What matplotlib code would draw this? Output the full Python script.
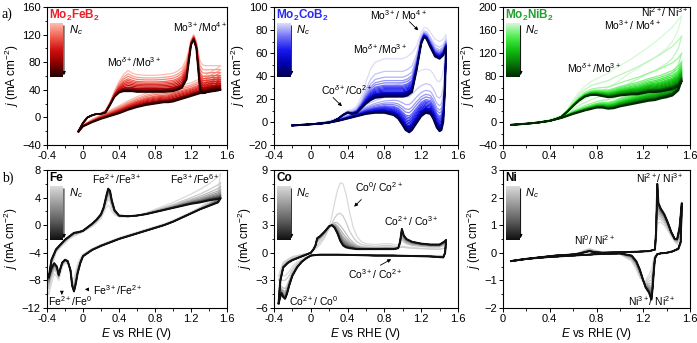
import numpy as np
import matplotlib
matplotlib.use('Agg')
import matplotlib.pyplot as plt
from matplotlib.colors import LinearSegmentedColormap
from matplotlib.ticker import MultipleLocator

plt.rcParams['font.family'] = 'Liberation Sans'
plt.rcParams['mathtext.fontset'] = 'custom'
plt.rcParams['mathtext.rm'] = 'Liberation Sans'
plt.rcParams['mathtext.it'] = 'Liberation Sans:italic'
plt.rcParams['mathtext.bf'] = 'Liberation Sans:bold'

# ---------------- data ----------------
# Mo2FeB2 : first (lightest) and last (darkest) cycle
mofe_E_up = [-0.05, 0.0, 0.05, 0.1, 0.15, 0.2, 0.25, 0.3, 0.35, 0.4, 0.45, 0.5, 0.55, 0.6, 0.7, 0.8, 0.9,
             1.0, 1.05, 1.1, 1.15, 1.18, 1.2, 1.23, 1.26, 1.28, 1.3, 1.33, 1.36, 1.4, 1.45, 1.5, 1.53]
mofe_up_first = [-22, -8, 0, 3, 5, 6, 10, 22, 38, 52, 62, 68, 64, 62, 61, 61, 62, 64, 67, 72,
                 85, 100, 112, 120, 110, 95, 82, 76, 75, 75, 75, 75, 75]
mofe_up_last = [-20, -8, 0, 3, 5, 5, 7, 18, 30, 36, 38, 38, 38, 37, 37, 37, 37, 38, 40, 43,
                55, 85, 105, 113, 100, 70, 40, 35, 36, 38, 39, 40, 40]
mofe_E_dn = [1.53, 1.5, 1.45, 1.4, 1.35, 1.3, 1.2, 1.1, 1.0, 0.95, 0.9, 0.8, 0.7, 0.6, 0.5, 0.4, 0.3,
             0.2, 0.1, 0.0, -0.05]
mofe_dn_first = [75, 72, 68, 64, 60, 56, 50, 47, 44, 40, 39, 38, 35, 30, 24, 17, 10, 4, -3, -11, -22]
mofe_dn_last = [40, 39, 38, 37, 36, 35, 31, 27, 23, 22, 22, 20, 18, 15, 11, 6, 2, -2, -7, -13, -20]
mofe_plateau = [62, 58, 55, 52, 50, 48, 46, 44, 42, 41, 40, 39, 38, 37]   # j at 0.6 V per cycle

# Mo2CoB2
moco_E_up = [-0.2, -0.1, 0.0, 0.1, 0.2, 0.25, 0.3, 0.35, 0.4, 0.45, 0.5, 0.55, 0.6, 0.65, 0.7, 0.8, 0.9,
             1.0, 1.05, 1.1, 1.15, 1.2, 1.23, 1.26, 1.3, 1.35, 1.4, 1.44, 1.47]
moco_up_first = [-3, -2.5, -2, -1.5, -0.5, 1, 3, 7, 10, 11, 14, 22, 35, 46, 52, 55, 55, 55, 57, 60,
                 66, 78, 82, 82, 78, 72, 70, 72, 76]
moco_up_last = [-3, -2.5, -2, -1.5, -0.5, 1, 3, 6, 8, 7, 8, 12, 16, 19, 21, 22, 22, 22, 23, 26,
                45, 68, 74, 72, 65, 57, 55, 58, 65]
moco_E_dn = [1.47, 1.46, 1.44, 1.42, 1.4, 1.37, 1.33, 1.3, 1.25, 1.2, 1.15, 1.1, 1.07, 1.03, 1.0,
             0.95, 0.9, 0.8, 0.7, 0.6, 0.5, 0.4, 0.3, 0.2, 0.0, -0.2]
moco_dn_first = [76, 60, 45, 38, 35, 36, 42, 45, 46, 45, 43, 40, 38, 36, 35, 33, 31, 28, 24, 19,
                 13, 8, 4, 1, -2, -3]
moco_dn_last = [65, 30, 0, -7, -8, -5, 3, 7, 8, 5, -1, -7, -9, -7, -3, 3, 6, 8, 8, 7, 5, 3, 1, -0.5, -2, -3]
moco_plateau = [55, 44, 39, 36, 34, 32, 31, 30, 29, 28, 27, 26, 25.5, 25, 24.5, 24, 23.5, 23, 22.5, 22]

# Mo2NiB2
moni_E_up = [0.07, 0.2, 0.3, 0.4, 0.45, 0.5, 0.55, 0.6, 0.65, 0.7, 0.75, 0.8, 0.85, 0.9, 0.95, 1.0,
             1.05, 1.1, 1.15, 1.2, 1.25, 1.3, 1.35, 1.4, 1.45, 1.5, 1.53]
moni_up_first = [-5, -3, -1, 3, 6, 10, 22, 38, 52, 62, 70, 75, 80, 85, 92, 98, 104, 110, 117, 124,
                 131, 139, 147, 156, 165, 178, 185]
moni_up_last = [-5, -3, -1, 2, 5, 9, 18, 28, 37, 44, 47, 47, 45, 43, 44, 46, 47, 48, 48, 50,
                52, 52, 53, 55, 57, 62, 72]
moni_E_dn = [1.53, 1.5, 1.45, 1.4, 1.35, 1.3, 1.25, 1.2, 1.15, 1.1, 1.05, 1.0, 0.95, 0.9, 0.85, 0.8,
             0.7, 0.6, 0.5, 0.4, 0.3, 0.2, 0.07]
moni_dn_first = [185, 160, 140, 128, 120, 112, 106, 100, 93, 87, 80, 73, 66, 60, 55, 50, 40, 28, 12, 4, 0, -3, -5]
moni_dn_last = [72, 55, 46, 43, 41, 38, 37, 35, 33, 31, 29, 27, 24, 23, 25, 25, 20, 14, 7, 2, -1, -3, -5]
moni_top = [185, 150, 120, 106, 102, 98, 95, 92, 90, 88, 86, 84, 82, 80, 78, 77, 76, 75, 74, 72]

# Fe
fe_E_up = [-0.38, -0.35, -0.3, -0.25, -0.2, -0.15, -0.1, -0.05, 0.0, 0.05, 0.1, 0.15, 0.2, 0.23, 0.26,
           0.28, 0.3, 0.32, 0.35, 0.4, 0.5, 0.6, 0.7, 0.8, 0.9, 1.0, 1.1, 1.2, 1.3, 1.4, 1.5, 1.53]
fe_up_first = [-10, -6, -4, -3.2, -2.6, -2.0, -1.6, -1.3, -1.0, -0.6, -0.2, 0.3, 1.0, 1.8, 2.6, 2.9,
               2.6, 2.0, 1.5, 1.2, 1.2, 1.4, 1.8, 2.3, 2.8, 3.3, 3.9, 4.5, 5.2, 6.0, 7.0, 7.5]
fe_up_last = [-7.5, -5, -3.5, -2.8, -2.1, -1.6, -1.1, -1.0, -0.8, -0.3, 0.2, 0.8, 1.6, 2.6, 4.3, 5.3,
              5.0, 3.6, 2.2, 1.4, 1.3, 1.4, 1.6, 1.9, 2.2, 2.5, 2.8, 3.1, 3.3, 3.6, 3.8, 3.9]
fe_E_dn = [1.53, 1.5, 1.4, 1.3, 1.2, 1.1, 1.0, 0.9, 0.8, 0.7, 0.6, 0.5, 0.4, 0.3, 0.2, 0.1, 0.0, -0.03,
           -0.06, -0.08, -0.1, -0.12, -0.14, -0.17, -0.2, -0.23, -0.25, -0.27, -0.29, -0.32, -0.35, -0.38]
fe_dn_first = [7.5, 5.0, 3.5, 2.6, 1.9, 1.3, 0.7, 0.2, -0.2, -0.6, -1.0, -1.4, -1.8, -2.3, -2.8, -3.4,
               -4.2, -4.8, -5.6, -6.6, -7.8, -7.5, -6.3, -5.6, -5.5, -6.0, -7.0, -8.0, -7.5, -7.0, -8.5, -10]
fe_dn_last = [3.9, 3.3, 2.8, 2.3, 1.7, 1.1, 0.5, 0.0, -0.4, -0.8, -1.2, -1.6, -2.0, -2.5, -3.0, -3.6,
              -4.5, -5.5, -7.0, -8.5, -9.6, -8.8, -6.5, -5.2, -5.0, -5.4, -6.2, -7.2, -6.0, -5.5, -6.2, -7.5]
fe_top = [7.5, 6.2, 5.6, 5.2, 4.9, 4.7, 4.5, 4.4, 4.3, 4.2, 4.1, 4.0, 3.95, 3.9]

# Co : cycle 1, cycle 2, last cycle
co_E_up = [-0.35, -0.33, -0.3, -0.25, -0.2, -0.1, 0.0, 0.03, 0.05, 0.07, 0.1, 0.15, 0.2, 0.23, 0.26,
           0.29, 0.32, 0.35, 0.38, 0.42, 0.46, 0.5, 0.55, 0.6, 0.7, 0.8, 0.85, 0.9, 0.95, 0.97, 0.99,
           1.01, 1.04, 1.1, 1.2, 1.3, 1.4, 1.45, 1.47]
co_up_first = [-2.5, -1.8, -1.0, -0.7, -0.4, -0.2, 0.0, 0.2, 0.4, 0.6, 0.9, 1.6, 2.8, 4.0, 5.5, 6.8,
               7.6, 7.5, 6.5, 4.5, 2.8, 1.8, 1.2, 1.0, 0.9, 1.0, 1.0, 0.9, 0.8, 0.75, 0.7, 0.7, 0.65,
               0.6, 0.5, 0.45, 0.4, 0.5, 0.6]
co_up_second = [-3.0, -2.2, -1.2, -0.8, -0.5, -0.2, 0.0, 0.3, 0.5, 0.8, 1.2, 1.8, 2.6, 3.2, 3.8, 4.2,
                4.3, 4.0, 3.4, 2.4, 1.7, 1.2, 0.9, 0.8, 0.7, 0.8, 0.8, 0.7, 0.6, 0.6, 0.6, 0.6, 0.55,
                0.5, 0.45, 0.4, 0.4, 0.5, 0.6]
co_up_last = [-5.5, -3.0, -1.6, -1.1, -0.8, -0.4, 0.0, 0.4, 0.8, 1.6, 1.8, 2.3, 2.9, 3.0, 2.7, 2.1,
              1.3, 0.8, 0.6, 0.5, 0.45, 0.4, 0.4, 0.4, 0.4, 0.4, 0.4, 0.4, 0.5, 1.2, 2.6, 1.9, 1.5,
              1.2, 1.0, 0.9, 0.9, 1.2, 1.4]
co_E_dn = [1.47, 1.46, 1.44, 1.3, 1.1, 0.9, 0.7, 0.5, 0.3, 0.1, 0.0, -0.05, -0.1, -0.15, -0.2, -0.23,
           -0.26, -0.28, -0.3, -0.32, -0.35]
co_dn_first = [0.6, 0.0, -0.3, -0.3, -0.3, -0.3, -0.25, -0.2, -0.2, -0.2, -0.3, -0.4, -0.7, -1.0, -1.5,
               -2.0, -2.3, -2.5, -2.5, -2.5, -2.5]
co_dn_second = [0.6, 0.0, -0.3, -0.3, -0.3, -0.3, -0.25, -0.2, -0.2, -0.2, -0.3, -0.5, -0.8, -1.2, -1.8,
                -2.4, -2.8, -3.0, -3.0, -3.0, -3.0]
co_dn_last = [1.4, 0.0, -0.5, -0.4, -0.35, -0.3, -0.3, -0.25, -0.2, -0.2, -0.3, -0.6, -1.0, -1.6, -2.5,
              -3.4, -4.5, -5.0, -4.8, -4.4, -5.5]
co_stage = [0, 1, 1.45, 1.6, 1.7, 1.77, 1.82, 1.86, 1.9, 1.93, 1.95, 1.97, 1.98, 1.99, 2.0]

# Ni
ni_E_up = [0.07, 0.15, 0.3, 0.45, 0.6, 0.65, 0.7, 0.74, 0.78, 0.85, 1.0, 1.15, 1.25, 1.3, 1.31, 1.32,
           1.33, 1.35, 1.38, 1.41, 1.44, 1.47, 1.49, 1.51, 1.53]
ni_up_first = [-0.3, -0.25, -0.17, -0.1, -0.05, 0.0, 0.1, 0.15, 0.1, 0.03, 0.02, 0.04, 0.06, 0.1, 0.4,
               1.0, 1.1, 1.1, 1.0, 0.8, 0.6, 0.4, 0.3, 0.5, 1.2]
ni_up_last = [-0.3, -0.25, -0.17, -0.1, -0.06, -0.03, 0.02, 0.06, 0.02, 0.0, 0.02, 0.04, 0.06, 0.12,
              0.8, 2.5, 1.8, 1.6, 1.4, 1.1, 0.75, 0.5, 0.5, 0.9, 1.8]
ni_E_dn = [1.53, 1.52, 1.5, 1.45, 1.4, 1.35, 1.32, 1.3, 1.29, 1.28, 1.27, 1.25, 1.22, 1.2, 1.17, 1.14,
           1.1, 1.0, 0.8, 0.6, 0.4, 0.2, 0.07]
ni_dn_first = [1.2, 0.3, 0.1, 0.05, 0.0, -0.02, -0.05, -0.1, -0.2, -0.4, -0.6, -0.8, -1.0, -1.05, -0.9,
               -0.6, -0.3, -0.05, -0.05, -0.1, -0.15, -0.22, -0.3]
ni_dn_last = [1.8, 0.4, 0.15, 0.05, 0.0, -0.02, -0.05, -0.2, -0.7, -1.3, -1.7, -1.45, -1.25, -1.0, -0.6,
              -0.3, -0.1, -0.02, -0.05, -0.1, -0.15, -0.22, -0.3]
ni_stage = [0, 0.2, 0.35, 0.47, 0.56, 0.63, 0.69, 0.74, 0.78, 0.82, 0.85, 0.88, 0.9, 0.92, 0.94, 0.96,
            0.97, 0.98, 0.99, 1.0]


# ---------------- helpers ----------------
def stages_from_levels(levels):
    lv = np.array(levels, dtype=float)
    return list((lv[0] - lv) / (lv[0] - lv[-1]))


def cycle_curve(keys, s):
    i = min(int(np.floor(s)), len(keys) - 2)
    f = s - i
    a, b = np.array(keys[i], dtype=float), np.array(keys[i + 1], dtype=float)
    return a * (1 - f) + b * f


def draw_cv(ax, E_up, ups, E_dn, dns, stages, cmap, lw=0.9):
    E = list(E_up) + list(E_dn)
    n = len(stages)
    for k, s in enumerate(stages):
        j = np.concatenate([cycle_curve(ups, s), cycle_curve(dns, s)])
        ax.plot(E, j, color=cmap(k / (n - 1)), lw=1.4 if k == n - 1 else lw,
                solid_joinstyle='round')


def legend_bar(ax, cmap, title, tcolor):
    ins = ax.inset_axes([0.017, 0.493, 0.072, 0.391])
    ins.imshow(np.linspace(0, 1, 100).reshape(-1, 1), aspect='auto', cmap=cmap)
    ins.axis('off')
    ax.annotate('', xy=(0.094, 0.485), xytext=(0.094, 0.884), xycoords='axes fraction',
                arrowprops=dict(arrowstyle='-|>', color='black', lw=0.7, mutation_scale=5))
    ax.text(0.12, 0.83, '$N_c$', transform=ax.transAxes, fontsize=8, va='center')
    ax.text(0.012, 0.94, title, transform=ax.transAxes, fontsize=8.5, fontweight='bold',
            color=tcolor, va='center')


def style(ax, xlim, ylim, xmaj, ymaj, xlabel=False):
    ax.set_xlim(*xlim)
    ax.set_ylim(*ylim)
    ax.xaxis.set_major_locator(MultipleLocator(xmaj))
    ax.xaxis.set_minor_locator(MultipleLocator(xmaj / 2))
    ax.yaxis.set_major_locator(MultipleLocator(ymaj))
    ax.yaxis.set_minor_locator(MultipleLocator(ymaj / 2))
    ax.tick_params(which='major', direction='out', length=3, width=0.7, labelsize=8, pad=1.5)
    ax.tick_params(which='minor', direction='out', length=1.8, width=0.6)
    for sp in ax.spines.values():
        sp.set_linewidth(0.8)
    ax.set_ylabel('$j$ (mA cm$^{-2}$)', fontsize=8.5, labelpad=1)
    if xlabel:
        ax.set_xlabel('$E$ vs RHE (V)', fontsize=8.5, labelpad=1)
    ax.xaxis.set_major_formatter(matplotlib.ticker.FuncFormatter(lambda v, p: f'{v:g}'))


red = LinearSegmentedColormap.from_list('r', ['#fdbcb0', '#f06050', '#d01010', '#8a0000', '#200000'])
blue = LinearSegmentedColormap.from_list('b', ['#dcdcf8', '#7070f8', '#1818f0', '#0000b0', '#00004a'])
green = LinearSegmentedColormap.from_list('g', ['#d6f8d6', '#50ee50', '#10c010', '#087a08', '#022a02'])
gray = LinearSegmentedColormap.from_list('k', ['#dadada', '#9a9a9a', '#5a5a5a', '#101010'])

fig = plt.figure(figsize=(6.97, 3.43), dpi=100)
W, H = 697, 343


def px_axes(x0, y0, x1, y1):
    return fig.add_axes([x0 / W, 1 - y1 / H, (x1 - x0) / W, (y1 - y0) / H])


ax1 = px_axes(47, 7, 227, 145)
ax2 = px_axes(274, 7, 458, 145)
ax3 = px_axes(503, 7, 690, 145)
ax4 = px_axes(47, 170, 227, 308)
ax5 = px_axes(274, 170, 458, 308)
ax6 = px_axes(503, 170, 690, 308)

ann = dict(fontsize=7.5)
arr = dict(arrowstyle='-|>', color='black', lw=0.6, mutation_scale=5)

# a) Mo2FeB2
draw_cv(ax1, mofe_E_up, [mofe_up_first, mofe_up_last], mofe_E_dn, [mofe_dn_first, mofe_dn_last],
        stages_from_levels(mofe_plateau), red)
style(ax1, (-0.4, 1.6), (-40, 160), 0.4, 40)
legend_bar(ax1, red, 'Mo$_\\mathbf{2}$FeB$_\\mathbf{2}$', '#e8202a')
ax1.text(0.27, 80, 'Mo$^{\\delta+}$/Mo$^{3+}$', va='center', **ann)
ax1.text(1.0, 131, 'Mo$^{3+}$/Mo$^{4+}$', va='center', **ann)

# Mo2CoB2
draw_cv(ax2, moco_E_up, [moco_up_first, moco_up_last], moco_E_dn, [moco_dn_first, moco_dn_last],
        stages_from_levels(moco_plateau), blue)
style(ax2, (-0.4, 1.6), (-20, 100), 0.4, 20)
legend_bar(ax2, blue, 'Mo$_\\mathbf{2}$CoB$_\\mathbf{2}$', '#2a2af0')
ax2.text(0.64, 93, 'Mo$^{3+}$/ Mo$^{4+}$', va='center', **ann)
ax2.annotate('', xy=(1.19, 78), xytext=(1.05, 89), arrowprops=arr)
ax2.text(0.46, 63, 'Mo$^{\\delta+}$/Mo$^{3+}$', va='center', **ann)
ax2.text(0.11, 28, 'Co$^{\\delta+}$/Co$^{2+}$', va='center', **ann)
ax2.annotate('', xy=(0.36, 12), xytext=(0.22, 23), arrowprops=arr)

# Mo2NiB2
draw_cv(ax3, moni_E_up, [moni_up_first, moni_up_last], moni_E_dn, [moni_dn_first, moni_dn_last],
        stages_from_levels(moni_top), green)
style(ax3, (0, 1.6), (-40, 200), 0.4, 40)
legend_bar(ax3, green, 'Mo$_\\mathbf{2}$NiB$_\\mathbf{2}$', '#22a030')
ax3.text(1.59, 191, 'Ni$^{2+}$/ Ni$^{3+}$', va='center', ha='right', **ann)
ax3.text(0.86, 169, 'Mo$^{3+}$/ Mo$^{4+}$', va='center', **ann)
ax3.text(0.55, 94, 'Mo$^{\\delta+}$/Mo$^{3+}$', va='center', **ann)

# b) Fe
draw_cv(ax4, fe_E_up, [fe_up_first, fe_up_last], fe_E_dn, [fe_dn_first, fe_dn_last],
        stages_from_levels(fe_top), gray)
style(ax4, (-0.4, 1.6), (-12, 8), 0.4, 4, xlabel=True)
legend_bar(ax4, gray, 'Fe', 'black')
ax4.text(0.1, 6.7, 'Fe$^{2+}$/Fe$^{3+}$', va='center', **ann)
ax4.text(0.97, 6.7, 'Fe$^{3+}$/Fe$^{6+}$', va='center', **ann)
ax4.text(0.11, -9.4, 'Fe$^{3+}$/Fe$^{2+}$', va='center', **ann)
ax4.annotate('', xy=(-0.01, -9.3), xytext=(0.09, -9.3), arrowprops=arr)
ax4.text(-0.385, -11.0, 'Fe$^{2+}$/Fe$^{0}$', va='center', **ann)
ax4.annotate('', xy=(-0.235, -10.5), xytext=(-0.235, -9.5), arrowprops=arr)

# Co
draw_cv(ax5, co_E_up, [co_up_first, co_up_second, co_up_last], co_E_dn,
        [co_dn_first, co_dn_second, co_dn_last], co_stage, gray)
style(ax5, (-0.4, 1.6), (-6, 9), 0.4, 3, xlabel=True)
legend_bar(ax5, gray, 'Co', 'black')
ax5.text(0.48, 7.1, 'Co$^{0}$/ Co$^{2+}$', va='center', **ann)
ax5.annotate('', xy=(0.45, 4.8), xytext=(0.57, 6.0), arrowprops=arr)
ax5.text(0.8, 3.4, 'Co$^{2+}$/ Co$^{3+}$', va='center', **ann)
ax5.text(0.4, -2.3, 'Co$^{3+}$/ Co$^{2+}$', va='center', **ann)
ax5.annotate('', xy=(0.9, -0.55), xytext=(0.73, -1.5), arrowprops=arr)
ax5.text(-0.24, -5.2, 'Co$^{2+}$/ Co$^{0}$', va='center', **ann)

# Ni
draw_cv(ax6, ni_E_up, [ni_up_first, ni_up_last], ni_E_dn, [ni_dn_first, ni_dn_last], ni_stage, gray)
style(ax6, (0, 1.6), (-2, 3), 0.4, 1, xlabel=True)
legend_bar(ax6, gray, 'Ni', 'black')
ax6.text(1.14, 2.7, 'Ni$^{2+}$/ Ni$^{3+}$', va='center', **ann)
ax6.text(0.61, 0.45, 'Ni$^{0}$/ Ni$^{2+}$', va='center', **ann)
ax6.text(1.07, -1.75, 'Ni$^{3+}$/ Ni$^{2+}$', va='center', **ann)

fig.text(2 / W, 1 - 14 / H, 'a)', fontsize=10, family='Liberation Serif', va='center')
fig.text(2 / W, 1 - 178 / H, 'b)', fontsize=10, family='Liberation Serif', va='center')

fig.savefig('out.png', dpi=100)
